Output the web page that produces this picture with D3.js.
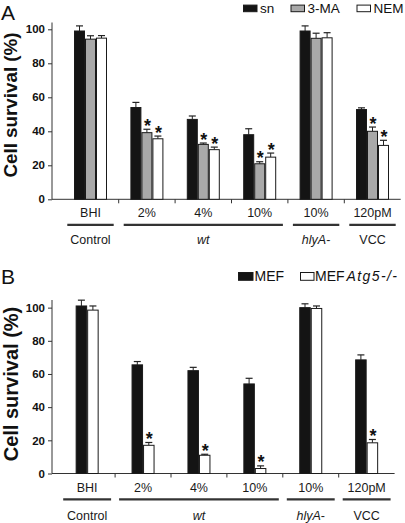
<!DOCTYPE html>
<html><head><meta charset="utf-8">
<script src="https://cdn.jsdelivr.net/npm/d3@7/dist/d3.min.js"></script>
<style>
html,body{margin:0;padding:0;background:#fff;}
svg{display:block;font-family:"Liberation Sans",Arial,sans-serif;}
</style></head>
<body>
<svg id="chart" width="405" height="523"></svg>
<script>
// ---------- DATA ----------
const categories = ["BHI", "2%", "4%", "10%", "10%", "120pM"];
const groupNames = ["Control", "wt", "hlyA-", "VCC"];
const groupItalic = [false, true, true, false];
const groupStart = [0, 1, 4, 5];
const groupEnd = [0, 3, 4, 5];
const yTicks = [0, 20, 40, 60, 80, 100];

// Panel A
const seriesA = ["sn", "3-MA", "NEM"];
const snA = [99, 54, 47, 38, 99, 52.8];
const snErrA = [3, 3, 2, 3.5, 3, 1];
const maA = [94.2, 39.2, 32.3, 20.9, 94.7, 40];
const maErrA = [2, 2, 0.8, 1.2, 3, 2.5];
const nemA = [94.8, 35.6, 29.2, 24.8, 95, 31.7];
const nemErrA = [1.5, 1.6, 1.5, 2.4, 3, 3];
const maSigA = [false, true, true, true, false, true];
const nemSigA = [false, true, true, true, false, true];

// Panel B
const seriesB = ["MEF", "MEF Atg5-/-"];
const mefB = [101, 65.5, 62, 54, 100, 68.5];
const mefErrB = [3.5, 2, 2, 3.4, 2.3, 3];
const atgB = [98.5, 17, 11, 3, 99.5, 18.5];
const atgErrB = [2.5, 1.7, 0.6, 1.6, 1.5, 2];
const atgSigB = [false, true, true, true, false, true];

// ---------- DRAW ----------
const svg = d3.select("#chart");
const FONT = '"Liberation Sans",Arial,sans-serif';
const AX = "#333";

function drawPanel(p) {
  const g = svg.append("g");
  const x = d3.scaleBand().domain(d3.range(categories.length)).range(p.xRange);
  const y = d3.scaleLinear().domain(p.yDomain).range(p.yRange);
  const y0 = y(0);

  // y axis
  const yAxis = d3.axisLeft(y).tickValues(yTicks).tickSize(4).tickPadding(3);
  const ya = g.append("g").attr("transform", `translate(${p.axisX},0)`).call(yAxis);
  ya.select(".domain").remove();
  ya.selectAll(".tick line").attr("stroke", AX);
  ya.selectAll(".tick text").attr("font-family", FONT).attr("font-size", 11.5)
    .attr("font-weight", "bold").attr("fill", "#111");
  g.append("line").attr("x1", p.axisX).attr("x2", p.axisX)
    .attr("y1", y.range()[1]).attr("y2", y0).attr("stroke", AX);

  // x axis line + separator ticks
  g.append("line").attr("x1", p.axisX).attr("x2", x.range()[1])
    .attr("y1", y0).attr("y2", y0).attr("stroke", AX);
  d3.range(1, categories.length).forEach(i => {
    g.append("line").attr("x1", x(i)).attr("x2", x(i))
      .attr("y1", y0).attr("y2", y0 + 4).attr("stroke", AX);
  });

  // bars
  const n = p.series.length;
  p.series.forEach((s, si) => {
    s.values.forEach((v, ci) => {
      const cx = x(ci) + x.bandwidth() / 2;
      const bx = cx - n * p.barW / 2 + si * p.barW;
      const top = y(v), errTop = y(v + s.err[ci]);
      const mid = bx + p.barW / 2;
      g.append("line").attr("x1", mid).attr("x2", mid).attr("y1", top).attr("y2", errTop)
        .attr("stroke", "#222").attr("stroke-width", 1);
      g.append("line").attr("x1", mid - 3.5).attr("x2", mid + 3.5).attr("y1", errTop).attr("y2", errTop)
        .attr("stroke", "#222").attr("stroke-width", 1.2);
      g.append("rect").attr("x", bx + 0.5).attr("y", top).attr("width", p.barW - 1)
        .attr("height", y0 - top).attr("fill", s.fill).attr("stroke", "#1a1a1a").attr("stroke-width", 1);
      if (s.sig && s.sig[ci]) {
        g.append("text").attr("x", mid + 0.5).attr("y", errTop + 2.6).attr("text-anchor", "middle")
          .attr("font-family", FONT).attr("font-weight", "bold").attr("font-size", 18)
          .attr("fill", "#111").text("*");
      }
    });
  });

  // category labels
  categories.forEach((c, ci) => {
    g.append("text").attr("x", x(ci) + x.bandwidth() / 2).attr("y", y0 + p.labDy)
      .attr("text-anchor", "middle").attr("font-family", FONT).attr("font-size", 12.5)
      .attr("fill", "#1a1a1a").text(c);
  });

  // group lines & labels
  groupNames.forEach((gn, gi) => {
    const x1 = x(groupStart[gi]) + p.inset, x2 = x(groupEnd[gi]) + x.bandwidth() - p.inset;
    g.append("line").attr("x1", x1).attr("x2", x2).attr("y1", y0 + p.lineDy).attr("y2", y0 + p.lineDy)
      .attr("stroke", "#333").attr("stroke-width", 2.2);
    const t = g.append("text").attr("x", (x1 + x2) / 2).attr("y", y0 + p.grpDy)
      .attr("text-anchor", "middle").attr("font-family", FONT).attr("font-size", 12.5).attr("fill", "#1a1a1a");
    if (groupItalic[gi]) {
      const m = gn.match(/^(.*?)(-?)$/);
      t.append("tspan").attr("font-style", "italic").text(m[1]);
      if (m[2]) t.append("tspan").text(m[2]);
    } else t.text(gn);
  });

  // y title
  g.append("text").attr("transform", `translate(${p.titleX},${p.titleY}) rotate(-90)`)
    .attr("text-anchor", "middle").attr("font-family", FONT).attr("font-weight", "bold")
    .attr("font-size", p.titleSize).attr("fill", "#111").text("Cell survival (%)");

  // panel letter
  g.append("text").attr("x", 1).attr("y", p.letterY).attr("font-family", FONT)
    .attr("font-size", 21).attr("fill", "#111").text(p.letter);
  return g;
}

const gA = drawPanel({
  letter: "A", letterY: 19.5,
  xRange: [62.3, 400.7], yDomain: [0, 104], yRange: [199.3, 22.5], axisX: 52,
  barW: 11, labDy: 17.5, lineDy: 25.5, grpDy: 44.5, inset: 5,
  titleX: 17, titleY: 105, titleSize: 18.8,
  series: [
    { values: snA, err: snErrA, fill: "#141414" },
    { values: maA, err: maErrA, fill: "#a9a9a9", sig: maSigA },
    { values: nemA, err: nemErrA, fill: "#ffffff", sig: nemSigA }
  ]
});

const gB = drawPanel({
  letter: "B", letterY: 283.5,
  xRange: [59.2, 394.6], yDomain: [0, 104.6], yRange: [473.5, 300], axisX: 52,
  barW: 11.5, labDy: 18, lineDy: 25.8, grpDy: 46.3, inset: 4,
  titleX: 18, titleY: 384, titleSize: 20,
  series: [
    { values: mefB, err: mefErrB, fill: "#141414" },
    { values: atgB, err: atgErrB, fill: "#ffffff", sig: atgSigB }
  ]
});

// legends
function legendItem(x, y, w, h, fill, tx, label, size) {
  svg.append("rect").attr("x", x + 0.5).attr("y", y + 0.5).attr("width", w - 1).attr("height", h - 1)
    .attr("fill", fill).attr("stroke", "#1a1a1a").attr("stroke-width", 1);
  return svg.append("text").attr("x", tx).attr("y", y + h + 0.5).attr("font-family", FONT)
    .attr("font-size", size).attr("fill", "#111").text(label);
}
const legFillA = ["#141414", "#a9a9a9", "#ffffff"];
const legXA = [243, 290.5, 356.5];
seriesA.forEach((s, i) => legendItem(legXA[i], 4.6, 14.5, 7.6, legFillA[i], legXA[i] + 17, s, 13.5));

legendItem(238, 272, 15.5, 8.8, "#141414", 254.5, seriesB[0], 14);
const lt = legendItem(300, 272, 14.5, 8.8, "#ffffff", 315, "", 14);
const parts = seriesB[1].split(" ");
lt.append("tspan").text(parts[0]);
lt.append("tspan").attr("dx", 2).attr("font-style", "italic").attr("letter-spacing", 1.4).text(parts[1]);
</script>
</body></html>
